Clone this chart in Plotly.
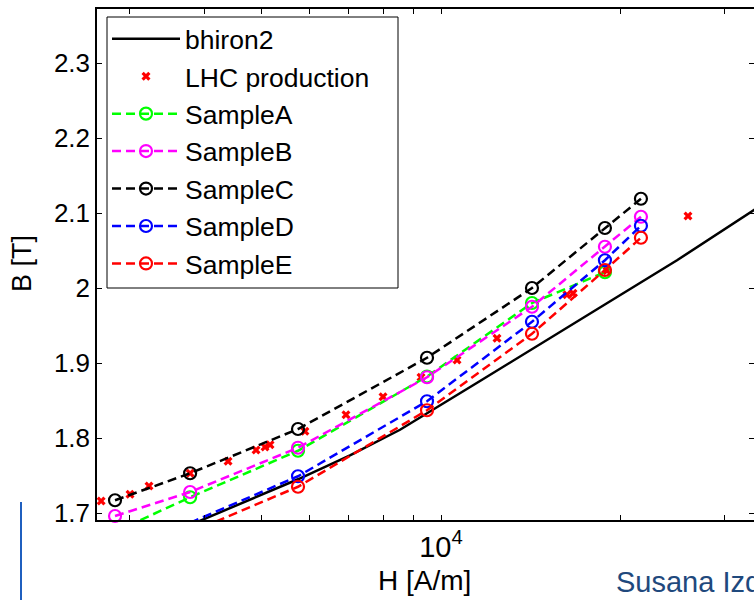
import plotly.graph_objects as go

# ---- data ----
H_bhiron2 = [3000, 3981, 5750, 7031, 8533, 11630, 19380, 24930, 33570, 40000]
B_bhiron2 = [1.650, 1.691, 1.745, 1.777, 1.811, 1.876, 1.984, 2.037, 2.104, 2.144]

H_lhc = [2684, 3001, 3230, 3787, 4386, 4888, 5061, 5160, 5906, 6923, 7990,
         9256, 10640, 12420, 16280, 16670, 19010, 26010]
B_lhc = [1.716, 1.725, 1.736, 1.753, 1.769, 1.784, 1.788, 1.791, 1.809, 1.831,
         1.855, 1.881, 1.904, 1.933, 1.991, 1.993, 2.023, 2.096]

H_A = [2832, 3787, 5750, 9473, 14220, 18860]
B_A = [1.675, 1.721, 1.783, 1.882, 1.980, 2.021]

H_B = [2832, 3787, 5750, 9473, 14220, 18860, 21680]
B_B = [1.696, 1.728, 1.787, 1.881, 1.975, 2.055, 2.095]

H_C = [2832, 3787, 5750, 9473, 14220, 18860, 21680]
B_C = [1.717, 1.753, 1.812, 1.907, 2.000, 2.080, 2.119]

H_D = [3787, 5750, 9473, 14220, 18860, 21680]
B_D = [1.687, 1.749, 1.849, 1.955, 2.037, 2.083]

H_E = [3787, 5750, 9473, 14220, 18860, 21680]
B_E = [1.674, 1.735, 1.837, 1.939, 2.024, 2.067]

y_ticks = [1.7, 1.8, 1.9, 2.0, 2.1, 2.2, 2.3]
y_ticktext = ["1.7", "1.8", "1.9", "2", "2.1", "2.2", "2.3"]
x_major = [10000]
x_major_text = ["10<sup>4</sup>"]
x_minor = [3000, 4000, 5000, 6000, 7000, 8000, 9000, 20000, 30000]

Y_MIN, Y_MAX = 1.6907, 2.372
X_RANGE = [3.4218, 4.5261]

FONT = "Arial, Liberation Sans, Helvetica, sans-serif"
DASH = "9px,5px"

# plot-area geometry in pixels (for placing frame / slide decorations)
L, R, T, B = 97, 754, 9, 520
PW, PH = R - L, B - T


def px(xp):
    return (xp - L) / PW


def py(yp):
    return (B - yp) / PH


def in_range(xs, ys):
    pts = [(x, y) for x, y in zip(xs, ys) if Y_MIN <= y <= Y_MAX]
    return [p[0] for p in pts], [p[1] for p in pts]


fig = go.Figure()
fig.add_trace(go.Scatter(x=H_bhiron2, y=B_bhiron2, mode="lines", name="bhiron2",
                         line=dict(color="black", width=2.5)))
lx, ly = in_range(H_lhc, B_lhc)
fig.add_trace(go.Scatter(x=lx, y=ly, mode="markers", name="LHC production",
                         cliponaxis=False,
                         marker=dict(symbol="x", size=8, color="red", line=dict(width=0))))

samples = [("SampleA", H_A, B_A, "#00FF00"),
           ("SampleB", H_B, B_B, "#FF00FF"),
           ("SampleC", H_C, B_C, "#000000"),
           ("SampleD", H_D, B_D, "#0000FF"),
           ("SampleE", H_E, B_E, "#FF0000")]
for name, hx, by, col in samples:
    mk = dict(symbol="circle-open", size=12, color=col, line=dict(width=2.2, color=col))
    ln = dict(color=col, width=2.5, dash=DASH)
    fig.add_trace(go.Scatter(x=hx, y=by, mode="lines", line=ln, name=name,
                             legendgroup=name, showlegend=False))
    mx, my = in_range(hx, by)
    fig.add_trace(go.Scatter(x=mx, y=my, mode="markers", marker=mk, name=name,
                             legendgroup=name, showlegend=False, cliponaxis=False))
    fig.add_trace(go.Scatter(x=[None], y=[None], mode="lines+markers", line=ln,
                             marker=mk, name=name, legendgroup=name, showlegend=True))

fig.update_layout(
    width=754, height=600,
    margin=dict(l=L, r=754 - R, t=T, b=600 - B, autoexpand=False),
    paper_bgcolor="white", plot_bgcolor="white",
    font=dict(family=FONT, color="black"),
    showlegend=True,
    legend=dict(x=px(107), y=py(15), xanchor="left", yanchor="top",
                bgcolor="rgba(0,0,0,0)", borderwidth=0,
                font=dict(size=26.5, family=FONT), itemwidth=68,
                tracegroupgap=0),
    xaxis=dict(type="log", range=X_RANGE, showgrid=False, zeroline=False,
               showline=True, linecolor="black", linewidth=1.5, mirror="ticks",
               ticks="inside", ticklen=5, tickcolor="black", tickwidth=1,
               tickvals=x_major, ticktext=x_major_text,
               minor=dict(tickvals=x_minor, ticks="inside", ticklen=5,
                          tickcolor="black", tickwidth=1, showgrid=False),
               tickfont=dict(size=29, family=FONT)),
    yaxis=dict(range=[Y_MIN, Y_MAX], showgrid=False, zeroline=False,
               showline=True, linecolor="black", linewidth=1.5, mirror="ticks",
               ticks="inside", ticklen=5, tickcolor="black", tickwidth=1,
               tickvals=y_ticks, ticktext=y_ticktext,
               tickfont=dict(size=26, family=FONT)),
    annotations=[
        dict(text="H [A/m]", xref="paper", yref="paper", x=px(424),
             y=py(580), xanchor="center", yanchor="middle",
             showarrow=False, font=dict(size=28, family=FONT)),
        dict(text="B [T]", xref="paper", yref="paper", x=px(22),
             y=py(264), xanchor="center", yanchor="middle",
             textangle=-90, showarrow=False, font=dict(size=27, family=FONT)),
        dict(text="Susana Izquierdo Bermudez", xref="paper", yref="paper",
             x=px(614), y=py(582), xanchor="left",
             yanchor="middle", showarrow=False,
             font=dict(size=29, family=FONT, color="#1F497D")),
    ],
    shapes=[
        # legend frame
        dict(type="rect", xref="paper", yref="paper", layer="below",
             x0=px(107), x1=px(398), y0=py(17), y1=py(288),
             fillcolor="white", line=dict(color="black", width=1)),
        # slide decoration line
        dict(type="line", xref="paper", yref="paper",
             x0=px(21), x1=px(21), y0=py(502), y1=py(602),
             line=dict(color="#1F5FBF", width=2)),
    ],
)

fig.write_html("out.html")
